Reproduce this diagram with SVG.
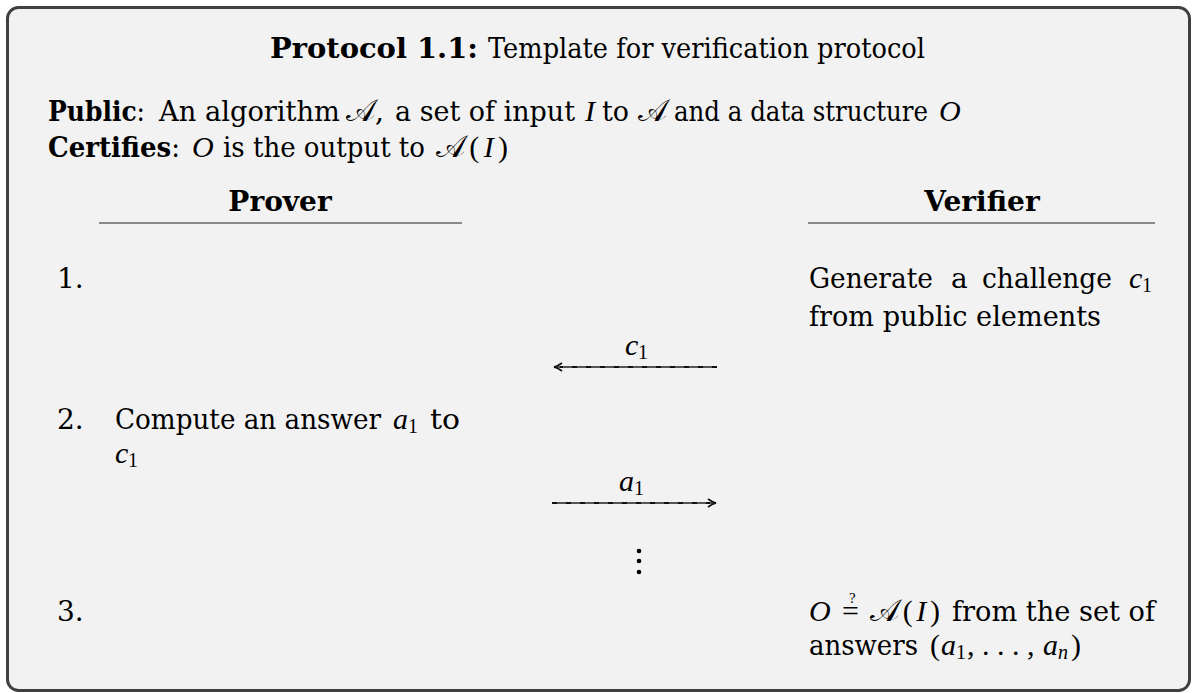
<svg xmlns="http://www.w3.org/2000/svg" width="1195" height="693" viewBox="0 0 1195 693">
<defs>
<style>
text{font-family:"DejaVu Serif","Liberation Serif",serif;font-size:28px;fill:#000}
.b{font-weight:bold}
.m{font-family:"Liberation Serif","DejaVu Serif",serif;font-style:italic;font-size:30px}
.r{font-family:"Liberation Serif","DejaVu Serif",serif;font-size:30px}
.s{font-family:"Liberation Serif","DejaVu Serif",serif;font-size:20px}
.q{font-family:"Liberation Serif","DejaVu Serif",serif;font-size:15px;fill:#000}
.cal{font-family:"DejaVu Serif","Noto Sans",serif;font-size:31px}
.hl{stroke:#666;stroke-width:1.6}
.ar{stroke:#555;stroke-width:2;fill:none}
.ard{stroke:#111;stroke-width:2;stroke-dasharray:5 9;fill:none}
</style>
<marker id="ah" viewBox="0 0 10 10" refX="9" refY="5" markerWidth="10" markerHeight="10" markerUnits="userSpaceOnUse" orient="auto">
<path d="M1,1 Q5,4 9,5 Q5,6 1,9" fill="none" stroke="#111" stroke-width="1.6"/>
</marker>
</defs>
<rect x="7.5" y="7.5" width="1182" height="683" rx="11" fill="#f2f2f2" stroke="#404040" stroke-width="3"/>
<g id="title">
<text x="270" y="58" class="b" textLength="208" lengthAdjust="spacingAndGlyphs">Protocol 1.1:</text>
<text x="488" y="58" textLength="437" lengthAdjust="spacingAndGlyphs">Template for verification protocol</text>
</g>
<g id="public">
<text x="48" y="121" textLength="97" lengthAdjust="spacingAndGlyphs"><tspan class="b">Public</tspan>:</text>
<text x="159" y="121" textLength="181" lengthAdjust="spacingAndGlyphs">An algorithm</text>
<text x="346" y="121"><tspan class="cal">𝒜</tspan>,</text>
<text x="395" y="121" textLength="180" lengthAdjust="spacingAndGlyphs">a set of input</text>
<text x="585" y="121" class="m">I</text>
<text x="602" y="121" textLength="27" lengthAdjust="spacingAndGlyphs">to</text>
<text x="638" y="121" class="cal">𝒜</text>
<text x="674" y="121" textLength="254" lengthAdjust="spacingAndGlyphs">and a data structure</text>
<text x="939" y="121" class="m">O</text>
</g>
<g id="certifies">
<text x="48" y="157" textLength="132" lengthAdjust="spacingAndGlyphs"><tspan class="b">Certifies</tspan>:</text>
<text x="192" y="157" class="m">O</text>
<text x="223" y="157" textLength="202" lengthAdjust="spacingAndGlyphs">is the output to</text>
<text x="436" y="157" textLength="72" lengthAdjust="spacing"><tspan class="cal">𝒜</tspan><tspan class="r">(</tspan><tspan class="m">I</tspan><tspan class="r">)</tspan></text>
</g>
<g id="prover">
<text x="280" y="211" class="b" text-anchor="middle">Prover</text>
<line x1="99" y1="223" x2="462" y2="223" class="hl"/>
</g>
<g id="verifier">
<text x="982" y="211" class="b" text-anchor="middle">Verifier</text>
<line x1="808" y1="223" x2="1155" y2="223" class="hl"/>
</g>
<g id="step1">
<text x="57" y="288">1.</text>
<text x="809" y="288" textLength="124" lengthAdjust="spacingAndGlyphs">Generate</text>
<text x="951" y="288">a</text>
<text x="982" y="288" textLength="130" lengthAdjust="spacingAndGlyphs">challenge</text>
<text x="1129" y="288" class="m">c</text>
<text x="1142" y="292" class="s">1</text>
<text x="809" y="326" textLength="292" lengthAdjust="spacingAndGlyphs">from public elements</text>
</g>
<g id="step2">
<text x="57" y="429">2.</text>
<text x="115" y="429" textLength="266" lengthAdjust="spacingAndGlyphs">Compute an answer</text>
<text x="393" y="429" class="m">a</text>
<text x="408" y="433" class="s">1</text>
<text x="430" y="429" textLength="30" lengthAdjust="spacingAndGlyphs">to</text>
<text x="115" y="463" class="m">c</text>
<text x="128" y="467" class="s">1</text>
</g>
<g id="step3">
<text x="57" y="621">3.</text>
<text x="809" y="621" class="m">O</text>
<text x="842" y="621" class="r">=<tspan x="849" y="603" class="q">?</tspan></text>
<text x="870" y="621" textLength="70" lengthAdjust="spacing"><tspan class="cal">𝒜</tspan><tspan class="r">(</tspan><tspan class="m">I</tspan><tspan class="r">)</tspan></text>
<text x="952" y="621" textLength="203" lengthAdjust="spacingAndGlyphs">from the set of</text>
<text x="809" y="655" textLength="109" lengthAdjust="spacingAndGlyphs">answers</text>
<text x="930" y="655" class="r">(</text>
<text x="941" y="655" class="m">a</text>
<text x="956" y="659" class="s">1</text>
<text x="967" y="655" class="r">, . . . ,</text>
<text x="1043" y="655" class="m">a</text>
<text x="1058" y="659" class="s" font-style="italic">n</text>
<text x="1071" y="655" class="r">)</text>
</g>
<g id="connectors">
<g id="msg-c1">
<line x1="717" y1="367" x2="554" y2="367" class="ar" marker-end="url(#ah)"/>
<line x1="717" y1="367" x2="560" y2="367" class="ard"/>
<text x="625" y="355" class="m">c</text>
<text x="638" y="359" class="s">1</text>
</g>
<g id="msg-a1">
<line x1="552" y1="503" x2="716" y2="503" class="ar" marker-end="url(#ah)"/>
<line x1="552" y1="503" x2="710" y2="503" class="ard"/>
<text x="619" y="491" class="m">a</text>
<text x="634" y="495" class="s">1</text>
</g>
<g id="vdots">
<circle cx="639" cy="551" r="2.3"/>
<circle cx="639" cy="561" r="2.3"/>
<circle cx="639" cy="572" r="2.3"/>
</g>
</g>
</svg>
